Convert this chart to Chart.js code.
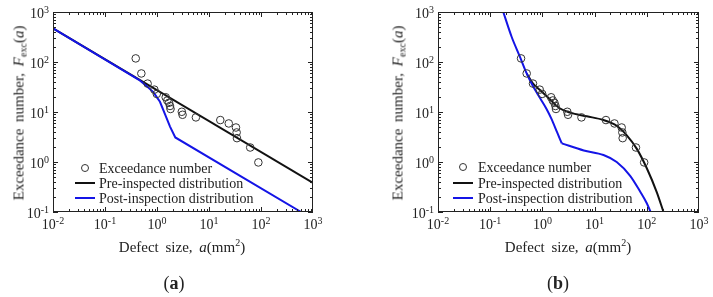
<!DOCTYPE html>
<html>
<head>
<meta charset="utf-8">
<script src="https://cdn.jsdelivr.net/npm/chart.js@4.4.1/dist/chart.umd.min.js"></script>
<style>
  body { margin: 0; width: 713px; height: 297px; background: #fff; position: relative; overflow: hidden;
         font-family: 'Liberation Serif', serif; color: #222; }
  .panel { position: absolute; top: 0; }
  .lbl { position: absolute; white-space: nowrap; font-size: 15px; word-spacing: 3px;
         transform: translate(-50%, -50%); line-height: 1; }
  .ytitle { transform: translate(-50%, -50%) rotate(-90deg); }
  .sub { font-size: 10px; position: relative; top: 3px; }
  .sup { font-size: 10px; position: relative; top: -6px; }
  .caption { font-size: 18px; word-spacing: 0; }
</style>
</head>
<body>
<div class="panel" style="left:0"><canvas id="chartA" width="340" height="260"></canvas></div>
<div class="panel" style="left:356px"><canvas id="chartB" width="357" height="260"></canvas></div>

<div class="lbl ytitle" style="left:19px;top:113px">Exceedance number, <i>F</i><span class="sub">exc</span>(<i>a</i>)</div>
<div class="lbl" style="left:182px;top:247px">Defect size, <i>a</i>(mm<span class="sup">2</span>)</div>
<div class="lbl caption" style="left:174px;top:283px">(<b>a</b>)</div>

<div class="lbl ytitle" style="left:398px;top:113px">Exceedance number, <i>F</i><span class="sub">exc</span>(<i>a</i>)</div>
<div class="lbl" style="left:568px;top:247px">Defect size, <i>a</i>(mm<span class="sup">2</span>)</div>
<div class="lbl caption" style="left:558px;top:283px">(<b>b</b>)</div>

<script>
// exceedance data (same in both panels)
const defectSize = [0.39, 0.50, 0.66, 0.89, 0.99, 1.47, 1.58, 1.70, 1.78, 1.82, 3.0, 3.1, 5.6, 16.5, 24, 33, 34, 34.5, 62, 89];
const exceedance = [118, 59, 37, 28, 23, 19.7, 17, 15.3, 13.2, 11.5, 10.1, 8.8, 7.8, 6.9, 5.9, 4.9, 3.9, 3.0, 1.95, 0.98];

// panel (a)
const preSizeA = [0.01, 1000];
const preValA = [470, 0.38];
const postSizeA = [0.01, 0.45, 0.63, 0.85, 1.14, 1.43, 1.78, 2.25, 590];
const postValA = [470, 44, 33, 25, 16, 9, 5.1, 3.1, 0.1];

// panel (b)
const preSizeB = [0.5, 0.65, 0.9, 1.39, 2.1, 3.4, 7.1, 14.8, 26.5, 41, 64, 100, 155, 209];
const preValB = [59, 38, 27.5, 18, 12, 9.7, 8.2, 6.9, 5.3, 3.45, 1.85, 0.75, 0.25, 0.1];
const postSizeB1 = [0.178, 0.257, 0.37, 0.5, 0.62, 0.9, 1.2, 1.5, 1.9, 2.35];
const postValB1 = [1000, 320, 128, 59, 37, 19, 11.5, 7.2, 4.0, 2.36];
const postSizeB2 = [2.35, 6.2, 14.8, 26.5, 48, 74, 100, 118];
const postValB2 = [2.36, 1.7, 1.38, 1.0, 0.53, 0.26, 0.15, 0.1];

// axis decades
const xExp = [-2, -1, 0, 1, 2, 3];
const yExp = [-1, 0, 1, 2, 3];

const BLUE = '#1414e6';
const BLACK = '#111';

function pts(xs, ys) {
    return xs.map((x, i) => ({ x: x, y: ys[i] }));
}

function powerLabel(ctx, exp, x, y, align) {
    ctx.font = "14px 'Liberation Serif'";
    const bw = ctx.measureText('10').width;
    const es = exp < 0 ? '-' + (-exp) : String(exp);
    ctx.font = "10px 'Liberation Serif'";
    const ew = ctx.measureText(es).width;
    const left = align === 'center' ? x - (bw + ew) / 2 : x - bw - ew;
    ctx.font = "14px 'Liberation Serif'";
    ctx.fillText('10', left, y);
    ctx.font = "10px 'Liberation Serif'";
    ctx.fillText(es, left + bw, y - 5);
}

// box, inward ticks, 10^n labels
const frameAxes = {
    id: 'frameAxes',
    afterDatasetsDraw(chart) {
        const { ctx, chartArea: a } = chart;
        const sx = chart.scales.x, sy = chart.scales.y;
        ctx.save();
        ctx.strokeStyle = '#222';
        ctx.lineWidth = 1;
        ctx.strokeRect(a.left + 0.5, a.top + 0.5, a.right - a.left - 1, a.bottom - a.top - 1);
        ctx.beginPath();
        xExp.slice(0, -1).forEach(e => {
            for (let m = 1; m < 10; m++) {
                const p = Math.round(sx.getPixelForValue(m * Math.pow(10, e))) + 0.5;
                const len = m === 1 ? 5 : 3;
                ctx.moveTo(p, a.bottom); ctx.lineTo(p, a.bottom - len);
                ctx.moveTo(p, a.top); ctx.lineTo(p, a.top + len);
            }
        });
        yExp.slice(0, -1).forEach(e => {
            for (let m = 1; m < 10; m++) {
                const p = Math.round(sy.getPixelForValue(m * Math.pow(10, e))) + 0.5;
                const len = m === 1 ? 5 : 3;
                ctx.moveTo(a.left, p); ctx.lineTo(a.left + len, p);
                ctx.moveTo(a.right, p); ctx.lineTo(a.right - len, p);
            }
        });
        ctx.stroke();

        ctx.fillStyle = '#222';
        ctx.textAlign = 'left';
        ctx.textBaseline = 'alphabetic';
        xExp.forEach(e => powerLabel(ctx, e, sx.getPixelForValue(Math.pow(10, e)), a.bottom + 17, 'center'));
        yExp.forEach(e => powerLabel(ctx, e, a.left - 4, sy.getPixelForValue(Math.pow(10, e)) + 5.5, 'right'));
        ctx.restore();
    }
};

// legend drawn inside the plot area
const insideLegend = {
    id: 'insideLegend',
    afterDatasetsDraw(chart, args, opts) {
        const ctx = chart.ctx;
        const items = chart.data.datasets.filter(d => d.label);
        ctx.save();
        ctx.font = "14px 'Liberation Serif'";
        ctx.textBaseline = 'middle';
        ctx.textAlign = 'left';
        items.forEach((d, i) => {
            const y = opts.rowY[i];
            ctx.strokeStyle = d.borderColor;
            if (d.showLine) {
                ctx.lineWidth = 2;
                ctx.beginPath();
                ctx.moveTo(opts.lineX0, y); ctx.lineTo(opts.lineX1, y);
                ctx.stroke();
            } else {
                ctx.lineWidth = 1;
                ctx.beginPath();
                ctx.arc((opts.lineX0 + opts.lineX1) / 2, y, 3.5, 0, Math.PI * 2);
                ctx.stroke();
            }
            ctx.fillStyle = '#222';
            ctx.fillText(d.label, opts.textX, y + 1);
        });
        ctx.restore();
    }
};

function pointSet() {
    return {
        label: 'Exceedance number',
        data: pts(defectSize, exceedance),
        showLine: false,
        pointRadius: 3.8,
        pointBorderWidth: 1,
        borderColor: '#333',
        backgroundColor: 'rgba(0,0,0,0)',
        order: 0
    };
}

// lower order is drawn on top
function lineSet(label, data, color, smooth, order) {
    return {
        label: label,
        data: data,
        showLine: true,
        borderColor: color,
        borderWidth: 2,
        pointRadius: 0,
        fill: false,
        cubicInterpolationMode: smooth ? 'monotone' : 'default',
        tension: 0,
        order: order
    };
}

function makeOptions(yWidth, rightPad, legendPos) {
    return {
        responsive: false,
        animation: false,
        devicePixelRatio: 1,
        layout: { padding: { top: 12, right: rightPad, left: 0, bottom: 0 } },
        scales: {
            x: {
                type: 'logarithmic', min: 0.01, max: 1000,
                ticks: { display: false }, grid: { display: false }, border: { display: false },
                afterFit(s) { s.height = 48; }
            },
            y: {
                type: 'logarithmic', min: 0.1, max: 1000,
                ticks: { display: false }, grid: { display: false }, border: { display: false },
                afterFit(s) { s.width = yWidth; }
            }
        },
        plugins: {
            legend: { display: false },
            tooltip: { enabled: false },
            insideLegend: legendPos
        }
    };
}

new Chart(document.getElementById('chartA'), {
    type: 'scatter',
    data: {
        datasets: [
            pointSet(),
            lineSet('Pre-inspected distribution', pts(preSizeA, preValA), BLACK, false, 2),
            lineSet('Post-inspection distribution', pts(postSizeA, postValA), BLUE, false, 1)
        ]
    },
    options: makeOptions(53, 27, { lineX0: 75, lineX1: 95, textX: 99, rowY: [168, 183, 198] }),
    plugins: [frameAxes, insideLegend]
});

// blue curve of (b) split at its kink so the corner stays sharp
const postTailB = lineSet('', pts(postSizeB2, postValB2), BLUE, true, 1);

new Chart(document.getElementById('chartB'), {
    type: 'scatter',
    data: {
        datasets: [
            pointSet(),
            lineSet('Pre-inspected distribution', pts(preSizeB, preValB), BLACK, true, 2),
            lineSet('Post-inspection distribution', pts(postSizeB1, postValB1), BLUE, true, 1),
            postTailB
        ]
    },
    options: makeOptions(82, 14, { lineX0: 97, lineX1: 117, textX: 122, rowY: [167, 183, 198] }),
    plugins: [frameAxes, insideLegend]
});
</script>
</body>
</html>
